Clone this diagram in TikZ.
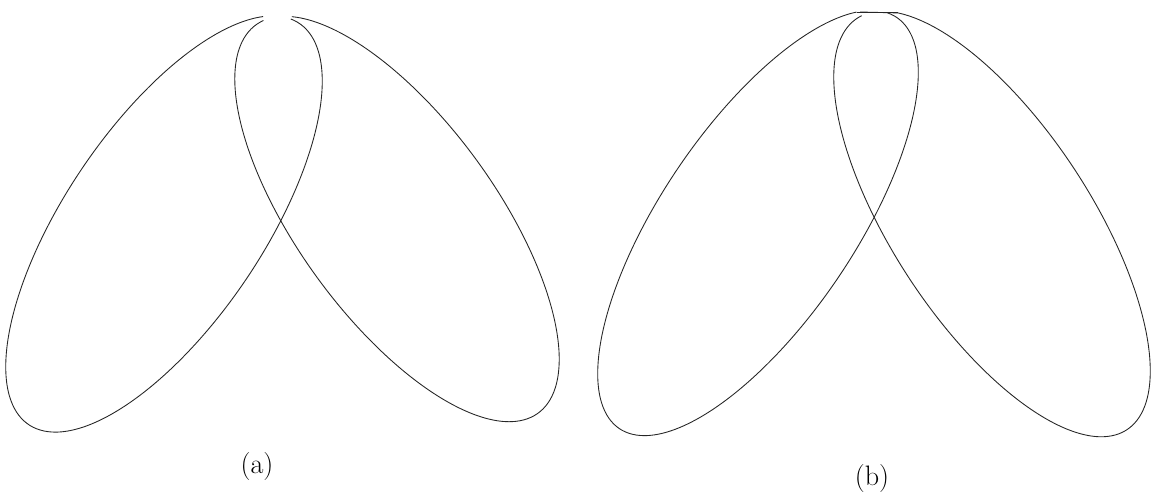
\documentclass[tikz,border=0pt]{standalone}
\usetikzlibrary{positioning}

\begin{document}
\begin{tikzpicture}[
        x=0.02cm, y=-0.02cm,
        curve/.style={line width=0.5pt, black!85},
        caption/.style={font=\fontsize{16}{19}\selectfont}
      ]
        \useasboundingbox (0,0) rectangle (1151,495);
        % (a): two tilted ellipses, open at the top
        \draw[curve] plot[domain=-5.5:340, samples=160, smooth, variable=\t]
          ({164+242*cos(\t)*0.5592+99*sin(\t)*0.8290}, {224-242*cos(\t)*0.8290+99*sin(\t)*0.5592});
        \draw[curve] plot[domain=-5:340, samples=160, smooth, variable=\t]
          ({397-240*cos(\t)*0.5878-99*sin(\t)*0.8090}, {219-240*cos(\t)*0.8090+99*sin(\t)*0.5878});
        \node[caption] (capa) at (257,466) {(a)};
        % (b): same, closed by a flat top
        \coordinate (topl) at (856.5,12);
        \coordinate (topr) at (898,12);
        \coordinate (topm) at (860,12);
        \draw[curve] plot[domain=-6:338, samples=160, smooth, variable=\t]
          ({758+248*cos(\t)*0.5592+97*sin(\t)*0.8290}, {223-248*cos(\t)*0.8290+97*sin(\t)*0.5592});
        \draw[curve] plot[domain=-3:338, samples=160, smooth, variable=\t]
          ({992-246*cos(\t)*0.5483-99*sin(\t)*0.8363}, {224-246*cos(\t)*0.8363+99*sin(\t)*0.5483}) -- (topm);
        \draw[curve] (topl) -- (topr);
        \node[caption] (capb) at (872,478) {(b)};
      \end{tikzpicture}
\end{document}
